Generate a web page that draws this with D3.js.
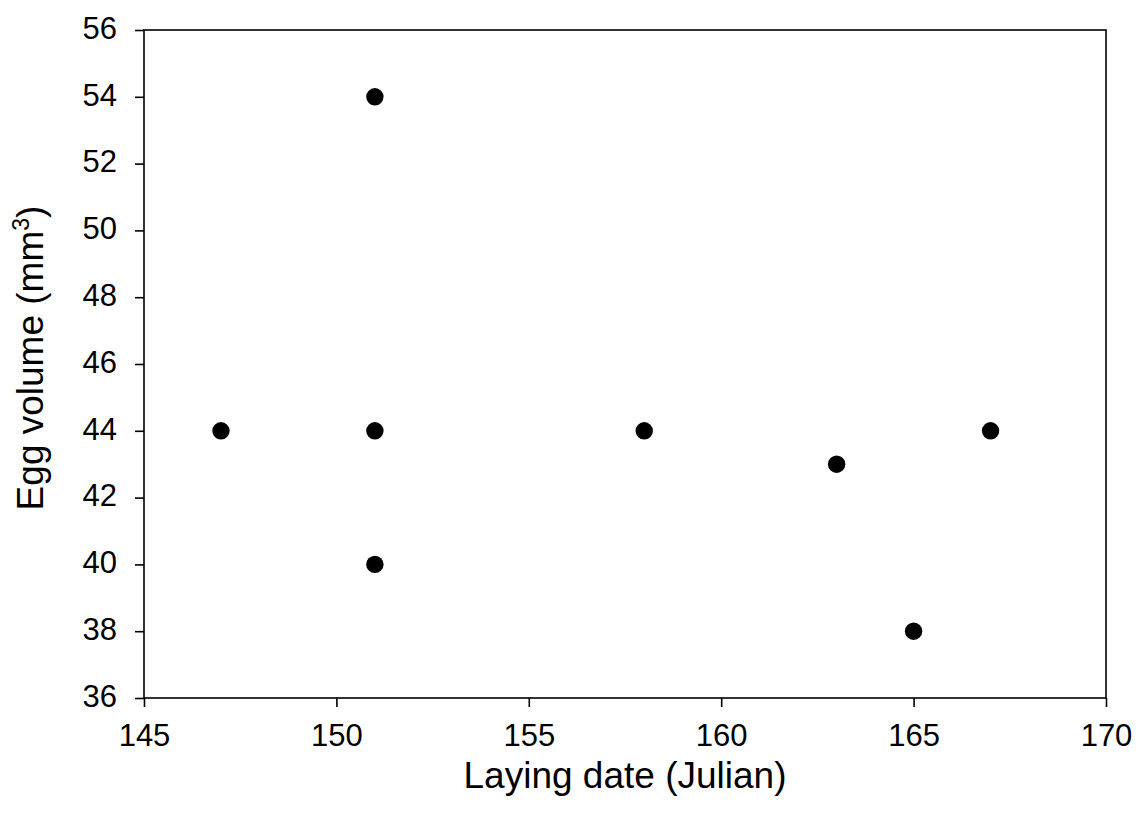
<!DOCTYPE html>
<html>
<head>
<meta charset="utf-8">
<script src="https://cdn.jsdelivr.net/npm/d3@7/dist/d3.min.js"></script>
<style>
  html, body { margin: 0; padding: 0; background: #fff; }
  svg { display: block; }
  text { font-family: Arial, "Liberation Sans", Helvetica, sans-serif; fill: #000; }
</style>
</head>
<body>
<svg id="chart" width="1147" height="818"></svg>
<script>
const layingDate = [147, 151, 151, 151, 158, 163, 165, 167];
const eggVolume  = [44, 54, 44, 40, 44, 43, 38, 44];
const xTicks = [145, 150, 155, 160, 165, 170];
const yTicks = [36, 38, 40, 42, 44, 46, 48, 50, 52, 54, 56];
const xTitle = "Laying date (Julian)";
const yTitleMain = "Egg volume (mm";
const yTitleSup = "3";
const yTitleEnd = ")";

const svg = d3.select("#chart");
const margin = { left: 144, right: 1147 - 1106, top: 30, bottom: 818 - 698 };
const W = 1147, H = 818;

const x = d3.scaleLinear().domain([145, 170]).range([margin.left, W - margin.right]);
const y = d3.scaleLinear().domain([36, 56]).range([H - margin.bottom, margin.top]);

// frame
svg.append("rect")
  .attr("x", x(145)).attr("y", y(56))
  .attr("width", x(170) - x(145)).attr("height", y(36) - y(56))
  .attr("fill", "none").attr("stroke", "#000").attr("stroke-width", 1.6);

// x axis
const xAxis = svg.append("g")
  .attr("transform", `translate(0,${y(36)})`)
  .call(d3.axisBottom(x).tickValues(xTicks).tickSize(9).tickPadding(17).tickFormat(d3.format("d")));
xAxis.select(".domain").remove();
xAxis.selectAll("line").attr("stroke", "#000").attr("stroke-width", 1.6);
xAxis.selectAll("text").attr("font-size", 31).attr("font-family", "Arial, 'Liberation Sans', sans-serif");

// y axis
const yAxis = svg.append("g")
  .attr("transform", `translate(${x(145)},0)`)
  .call(d3.axisLeft(y).tickValues(yTicks).tickSize(9).tickPadding(18).tickFormat(d3.format("d")));
yAxis.select(".domain").remove();
yAxis.selectAll("line").attr("stroke", "#000").attr("stroke-width", 1.6);
yAxis.selectAll("text").attr("font-size", 31).attr("dy", "0.27em")
  .attr("font-family", "Arial, 'Liberation Sans', sans-serif");

// points
svg.append("g").selectAll("circle")
  .data(layingDate.map((d, i) => [d, eggVolume[i]]))
  .join("circle")
  .attr("cx", d => x(d[0]))
  .attr("cy", d => y(d[1]))
  .attr("r", 8.7)
  .attr("fill", "#000");

// x title
svg.append("text")
  .attr("x", (x(145) + x(170)) / 2)
  .attr("y", 788)
  .attr("text-anchor", "middle")
  .attr("font-size", 37)
  .text(xTitle);

// y title
const yt = svg.append("text")
  .attr("transform", `translate(43,${358}) rotate(-90)`)
  .attr("text-anchor", "middle")
  .attr("font-size", 37);
yt.append("tspan").text(yTitleMain);
yt.append("tspan").attr("font-size", 23).attr("dy", -14).text(yTitleSup);
yt.append("tspan").attr("dy", 14).text(yTitleEnd);
</script>
</body>
</html>
